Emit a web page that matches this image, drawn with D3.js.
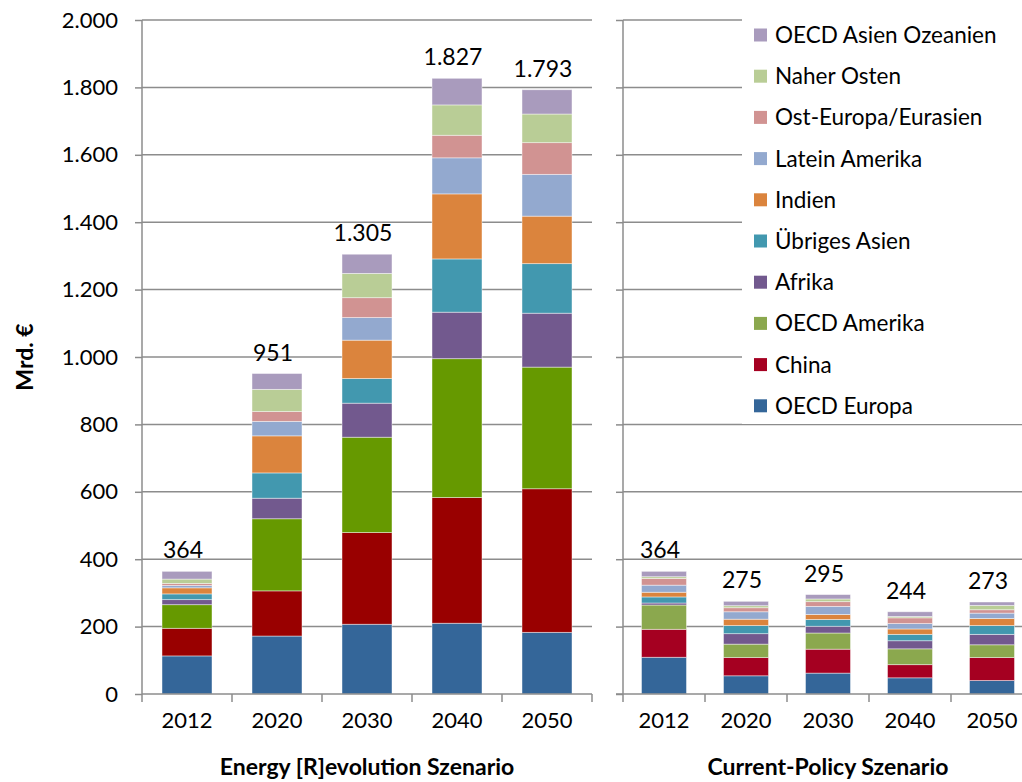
<!DOCTYPE html>
<html>
<head>
<meta charset="utf-8">
<script src="https://cdn.jsdelivr.net/npm/d3@7"></script>
<style>
  html, body { margin: 0; padding: 0; background: #fff; }
  svg { display: block; }
  text { font-family: Lato, "Open Sans", sans-serif; fill: #000; }
</style>
</head>
<body>
<svg id="chart" width="1022" height="782"></svg>
<script>
// ---------- data ----------
const years = ["2012", "2020", "2030", "2040", "2050"];
const regions = ["OECD Europa", "China", "OECD Amerika", "Afrika", "Übriges Asien",
                 "Indien", "Latein Amerika", "Ost-Europa/Eurasien", "Naher Osten", "OECD Asien Ozeanien"];
// Energy [R]evolution Szenario, Mrd. € per region (rows follow `regions`, columns follow `years`)
const erOECDEuropa   = [113, 172, 207, 210, 183];
const erChina        = [ 82, 134, 272, 373, 426];
const erOECDAmerika  = [ 70, 214, 283, 412, 361];
const erAfrika       = [ 15,  61, 101, 138, 160];
const erUebrigesAsien= [ 17,  75,  73, 158, 147];
const erIndien       = [ 18, 110, 114, 193, 141];
const erLateinAmerika= [  7,  43,  67, 107, 124];
const erOstEuropa    = [  6,  29,  59,  67,  94];
const erNaherOsten   = [ 13,  66,  72,  90,  85];
const erOECDAsien    = [ 23,  47,  57,  79,  72];
// Current-Policy Szenario
const cpOECDEuropa   = [109,  54,  62,  48,  40];
const cpChina        = [ 83,  54,  71,  39,  68];
const cpOECDAmerika  = [ 72,  40,  48,  47,  38];
const cpAfrika       = [  6,  31,  20,  24,  31];
const cpUebrigesAsien= [ 18,  24,  20,  19,  26];
const cpIndien       = [ 14,  19,  15,  16,  21];
const cpLateinAmerika= [ 21,  22,  24,  16,  16];
const cpOstEuropa    = [ 20,  12,  14,  17,  10];
const cpNaherOsten   = [  5,   6,   8,   4,  13];
const cpOECDAsien    = [ 16,  13,  13,  14,  10];
const yTicks = [0, 200, 400, 600, 800, 1000, 1200, 1400, 1600, 1800, 2000];
const titleER = "Energy [R]evolution Szenario";
const titleCP = "Current-Policy Szenario";
const yTitle = "Mrd. €";

// ---------- styles ----------
const colorsER = ["#346699", "#990000", "#669900", "#72598E", "#4298AF", "#DB843D", "#93A9CF", "#D19392", "#B9CD96", "#A99BBD"];
const colorsCP = ["#346699", "#A50021", "#8BA84E", "#72598E", "#4298AF", "#DB843D", "#93A9CF", "#D19392", "#B9CD96", "#A99BBD"];
const gridColor = "#8c8c8c";

const erSeries = [erOECDEuropa, erChina, erOECDAmerika, erAfrika, erUebrigesAsien, erIndien, erLateinAmerika, erOstEuropa, erNaherOsten, erOECDAsien];
const cpSeries = [cpOECDEuropa, cpChina, cpOECDAmerika, cpAfrika, cpUebrigesAsien, cpIndien, cpLateinAmerika, cpOstEuropa, cpNaherOsten, cpOECDAsien];

function toRows(series) {
  return years.map((yr, i) => {
    const row = { year: yr };
    regions.forEach((r, k) => { row[r] = series[k][i]; });
    return row;
  });
}

const de = d3.formatLocale({ decimal: ",", thousands: ".", grouping: [3], currency: ["", "€"] });
const fmt = de.format(",d");

const svg = d3.select("#chart");
const plotTop = 20, plotBottom = 694;
const y = d3.scaleLinear().domain([0, 2000]).range([plotBottom, plotTop]);

const panels = [
  { rows: toRows(erSeries), colors: colorsER, x0: 142, x1: 592, padI: 40 / 90, title: titleER, gridEnd: 592, labels: true },
  { rows: toRows(cpSeries), colors: colorsCP, x0: 623, x1: 1033, padI: 37 / 82, title: titleCP, gridEnd: 1022, labels: false }
];

const stack = d3.stack().keys(regions);

panels.forEach((p, pi) => {
  const x = d3.scaleBand().domain(years).range([p.x0, p.x1])
    .paddingInner(p.padI).paddingOuter(p.padI / 2);
  const g = svg.append("g");

  // gridlines
  g.append("g").selectAll("line").data(yTicks.filter(t => t > 0)).join("line")
    .attr("x1", p.x0).attr("x2", p.gridEnd)
    .attr("y1", d => y(d)).attr("y2", d => y(d))
    .attr("stroke", gridColor).attr("stroke-width", 1.5);

  // y axis
  const yAxis = d3.axisLeft(y).tickValues(yTicks).tickSize(7).tickPadding(17)
    .tickFormat(p.labels ? fmt : "");
  const ya = g.append("g").attr("transform", `translate(${p.x0},0)`).call(yAxis);
  ya.select(".domain").attr("stroke", gridColor).attr("stroke-width", 1.5).attr("d", `M0,${plotTop}V${plotBottom}`);
  ya.selectAll(".tick line").attr("stroke", gridColor).attr("stroke-width", 1.5);
  ya.selectAll(".tick text").attr("font-size", 22).attr("font-family", "Lato").attr("fill", "#000");

  // stacked bars
  const layers = stack(p.rows);
  g.append("g").selectAll("g").data(layers).join("g")
    .attr("fill", (d, k) => p.colors[k])
    .selectAll("rect").data(d => d).join("rect")
    .attr("x", d => x(d.data.year))
    .attr("width", x.bandwidth())
    .attr("y", d => y(d[1]))
    .attr("height", d => y(d[0]) - y(d[1]))
    .attr("stroke", "rgba(255,255,255,0.55)").attr("stroke-width", 0.8);

  // x axis
  const step = x.step();
  const [r0, r1] = x.range();
  const bounds = d3.range(years.length + 1).map(i => r0 + i * step);
  const xa = g.append("g");
  xa.append("line").attr("x1", pi === 0 ? r0 : r0 - 7).attr("x2", Math.min(r1, 1022))
    .attr("y1", plotBottom).attr("y2", plotBottom).attr("stroke", gridColor).attr("stroke-width", 1.5);
  xa.selectAll("line.tk").data(bounds).join("line").attr("class", "tk")
    .attr("x1", d => d).attr("x2", d => d).attr("y1", plotBottom).attr("y2", plotBottom + 8)
    .attr("stroke", gridColor).attr("stroke-width", 1.5);
  xa.selectAll("text").data(years).join("text")
    .attr("x", d => x(d) + x.bandwidth() / 2).attr("y", 728)
    .attr("text-anchor", "middle").attr("font-size", 22).text(d => d);

  // totals
  g.append("g").selectAll("text").data(p.rows).join("text")
    .attr("x", d => x(d.year) + x.bandwidth() / 2 - 4)
    .attr("y", d => y(d3.sum(regions, r => d[r])) - 13)
    .attr("text-anchor", "middle").attr("font-size", 23)
    .text(d => fmt(d3.sum(regions, r => d[r])));

  // panel title
  g.append("text").attr("x", (p.x0 + p.x1) / 2).attr("y", 775)
    .attr("text-anchor", "middle").attr("font-size", 23).attr("font-weight", "bold")
    .text(p.title);
});

// y title
svg.append("text").attr("transform", `translate(33,${(plotTop + plotBottom) / 2}) rotate(-90)`)
  .attr("text-anchor", "middle").attr("font-size", 23).attr("font-weight", "bold").text(yTitle);

// legend
const lg = svg.append("g");
lg.append("rect").attr("x", 742).attr("y", 12).attr("width", 290).attr("height", 412).attr("fill", "#fff");
const legendItems = regions.slice().reverse().map(r => ({ name: r, color: colorsCP[regions.indexOf(r)] }));
const li = lg.selectAll("g.item").data(legendItems).join("g").attr("class", "item")
  .attr("transform", (d, i) => `translate(754,${35 + i * 41.2})`);
li.append("rect").attr("x", 0).attr("y", -6.5).attr("width", 13).attr("height", 13).attr("fill", d => d.color);
li.append("text").attr("x", 21).attr("y", 8).attr("font-size", 22.5).text(d => d.name);
</script>
</body>
</html>
